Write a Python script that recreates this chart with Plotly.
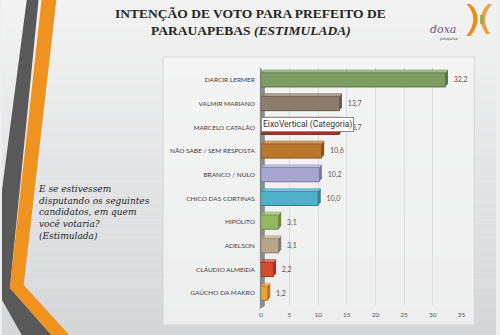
import plotly.graph_objects as go

W, H = 500, 335

categories = ["DARCIR LERMER", "VALMIR MARIANO", "MARCELO CATALÃO", "NÃO SABE / SEM RESPOSTA",
              "BRANCO / NULO", "CHICO DAS CORTINAS", "HIPÓLITO", "ADELSON",
              "CLÁUDIO ALMEIDA", "GAÚCHO DA MAKRO"]
values = [32.2, 13.7, 13.7, 10.6, 10.2, 10.0, 3.1, 3.1, 2.2, 1.2]
bar_colors = ["#7e9c63", "#8d7d6c", "#9b3b2e", "#b9772c", "#a8a5d2",
              "#4fb0ca", "#93b960", "#b7a68b", "#d44b2f", "#eea23a"]
side_colors = ["#5a7444", "#65574a", "#6e271e", "#86531c", "#7a7799",
               "#337f93", "#6a8a40", "#857861", "#9a3320", "#b7761f"]
x_ticks = [0, 5, 10, 15, 20, 25, 30, 35]

def px(x):
    return x / W

def py(y):
    return 1 - y / H

shapes = []
# background gradient bands
N = 48
for i in range(N):
    t = i / (N - 1)
    r = int(243 - t * 30)
    g = int(243 - t * 28)
    b = int(243 - t * 26)
    shapes.append(dict(type="rect", xref="paper", yref="paper", x0=0, x1=1,
                       y0=1 - (i + 1) / N, y1=1 - i / N,
                       fillcolor=f"rgb({r},{g},{b})", line=dict(width=0), layer="below"))

def poly(pts, color, layer="below"):
    d = "M " + " L ".join(f"{px(x):.4f},{py(y):.4f}" for x, y in pts) + " Z"
    return dict(type="path", xref="paper", yref="paper", path=d,
                fillcolor=color, line=dict(width=0), layer=layer)

# left decorative stripes
shapes.append(poly([(25, 0), (37, 0), (8, 288), (50, 335), (20, 335), (0, 300), (0, 190)], "#595959"))
shapes.append(poly([(40, 0), (55, 0), (22, 285), (68, 335), (50, 335), (8, 288)], "#f0921e"))

# chart panel
shapes.append(dict(type="rect", xref="paper", yref="paper", x0=px(163), x1=px(478),
                   y0=py(325), y1=py(57), fillcolor="rgba(246,246,246,0.75)",
                   line=dict(color="#d6d6d6", width=1), layer="below"))
# 3D wall of vertical axis
shapes.append(poly([(261, 67), (266, 74), (266, 306), (261, 309)], "#8a8a8a"))

# logo
shapes.append(dict(type="path", xref="paper", yref="paper",
                   path=f"M {px(470)},{py(4)} Q {px(484)},{py(18)} {px(470)},{py(36)} L {px(474)},{py(36)} Q {px(489)},{py(18)} {px(474)},{py(4)} Z",
                   fillcolor="#f08a1c", line=dict(width=0)))
shapes.append(dict(type="path", xref="paper", yref="paper",
                   path=f"M {px(492)},{py(4)} Q {px(478)},{py(18)} {px(490)},{py(34)} L {px(494)},{py(34)} Q {px(483)},{py(18)} {px(496)},{py(4)} Z",
                   fillcolor="#f5a040", line=dict(width=0)))
shapes.append(dict(type="rect", xref="paper", yref="paper", x0=px(484), x1=px(487),
                   y0=py(24), y1=py(15), fillcolor="#8fb04a", line=dict(width=0)))

# 3D faces of bars (data coords)
half = 0.3
dx, dy = 0.45, 0.14
for i, v in enumerate(values):
    top = i - half
    bot = i + half
    shapes.append(dict(type="path", xref="x", yref="y",
                       path=f"M {v},{bot} L {v + dx},{bot - dy} L {v + dx},{top - dy} L {v},{top} Z",
                       fillcolor=side_colors[i], line=dict(width=0)))
    shapes.append(dict(type="path", xref="x", yref="y",
                       path=f"M 0,{top} L {dx},{top - dy} L {v + dx},{top - dy} L {v},{top} Z",
                       fillcolor=bar_colors[i], opacity=0.7, line=dict(width=0)))

labels = ["\u00a0\u00a0\u00a0" + f"{v:.1f}".replace(".", ",") for v in values]

fig = go.Figure(go.Bar(
    x=values, y=list(range(len(categories))), orientation="h",
    marker=dict(color=bar_colors, line=dict(color=side_colors, width=1)),
    width=0.6,
    text=labels, textposition="outside", cliponaxis=False,
    textfont=dict(family="Lato, sans-serif", size=7, color="#595959"),
    hoverinfo="skip",
))

annotations = [
    dict(xref="paper", yref="paper", x=px(252), y=py(14), text="<b>INTENÇÃO DE VOTO PARA PREFEITO DE</b>",
         showarrow=False, font=dict(family="Liberation Serif, serif", size=13.5, color="#262626"),
         xanchor="center", yanchor="middle"),
    dict(xref="paper", yref="paper", x=px(252), y=py(30), text="<b>PARAUAPEBAS <i>(ESTIMULADA)</i></b>",
         showarrow=False, font=dict(family="Liberation Serif, serif", size=13.5, color="#262626"),
         xanchor="center", yanchor="middle"),
    dict(xref="paper", yref="paper", x=px(34), y=py(212),
         text="<i>E se estivessem<br>disputando os seguintes<br>candidatos, em quem<br>você votaria?<br>(Estimulada)</i>",
         showarrow=False, align="left", font=dict(family="DejaVu Serif, serif", size=9, color="#262626"),
         xanchor="left", yanchor="middle"),
    dict(xref="paper", yref="paper", x=px(309), y=py(125), text="EixoVertical (Categoria)",
         showarrow=False, font=dict(family="Roboto, sans-serif", size=8.5, color="#333333"),
         bgcolor="#ffffff", bordercolor="#8c8c8c", borderwidth=1, borderpad=1,
         xanchor="center", yanchor="middle"),
    dict(xref="paper", yref="paper", x=px(446), y=py(29), text="<i>doxa</i>",
         showarrow=False, font=dict(family="DejaVu Serif, serif", size=11, color="#6b5a7a"),
         xanchor="center", yanchor="middle"),
    dict(xref="paper", yref="paper", x=px(452), y=py(39), text="pesquisa",
         showarrow=False, font=dict(family="DejaVu Sans, sans-serif", size=4, color="#555555"),
         xanchor="center", yanchor="middle"),
]

fig.update_layout(
    width=W, height=H, margin=dict(l=0, r=0, t=0, b=0),
    paper_bgcolor="#eeeeee", plot_bgcolor="rgba(0,0,0,0)",
    showlegend=False, shapes=shapes, annotations=annotations,
    bargap=0.4,
    xaxis=dict(domain=[px(262), px(465)], range=[0, 35], tickvals=x_ticks,
               ticktext=[str(t) for t in x_ticks], showgrid=True, gridcolor="#dcdcdc",
               gridwidth=1, zeroline=False, showline=False,
               tickfont=dict(family="Lato, sans-serif", size=6.5, color="#595959"),
               ticks="", ticklabelstandoff=4),
    yaxis=dict(domain=[1 - 305 / H, 1 - 68 / H], range=[9.5, -0.5],
               tickvals=list(range(len(categories))), ticktext=categories,
               showgrid=False, zeroline=False, showline=False, ticks="",
               tickfont=dict(family="Lato, sans-serif", size=6.5, color="#404040"),
               ticklabelstandoff=5),
)

fig.write_html("out.html")
